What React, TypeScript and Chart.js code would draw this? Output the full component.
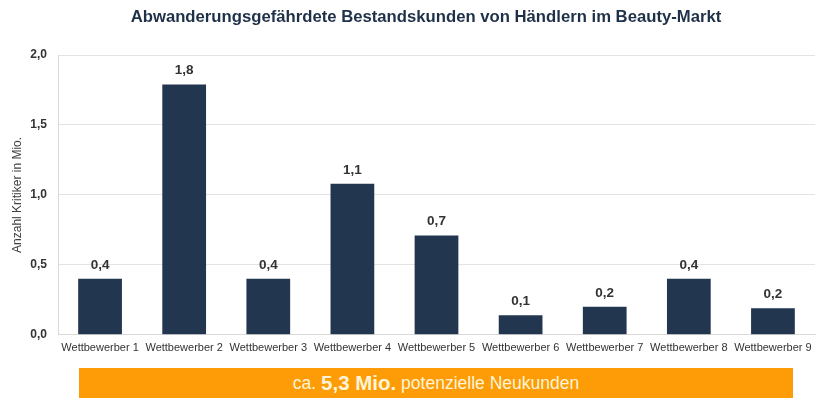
import React, { useEffect, useRef } from "react";
import { Chart, registerables } from "chart.js";

Chart.register(...registerables);

const categories = [
  "Wettbewerber 1",
  "Wettbewerber 2",
  "Wettbewerber 3",
  "Wettbewerber 4",
  "Wettbewerber 5",
  "Wettbewerber 6",
  "Wettbewerber 7",
  "Wettbewerber 8",
  "Wettbewerber 9",
];
const values = [0.4, 1.79, 0.4, 1.08, 0.71, 0.14, 0.2, 0.4, 0.19];
const valueLabels = ["0,4", "1,8", "0,4", "1,1", "0,7", "0,1", "0,2", "0,4", "0,2"];
const yTicks = ["0,0", "0,5", "1,0", "1,5", "2,0"];
const titleText = "Abwanderungsgefährdete Bestandskunden von Händlern im Beauty-Markt";

const FONT = "'Liberation Sans', Arial, sans-serif";
const NAVY = "#22364f";

const labelPlugin = {
  id: "valueLabels",
  afterDatasetsDraw(chart: any) {
    const ctx = chart.ctx;
    const meta = chart.getDatasetMeta(0);
    ctx.save();
    ctx.font = `bold 13.5px ${FONT}`;
    ctx.fillStyle = "#333333";
    ctx.textAlign = "center";
    ctx.textBaseline = "bottom";
    meta.data.forEach((bar: any, i: number) => {
      ctx.fillText(valueLabels[i], bar.x, bar.y - 7);
    });
    ctx.restore();
  },
};

const titlePlugin = {
  id: "customTitle",
  afterDraw(chart: any) {
    const ctx = chart.ctx;
    ctx.save();
    ctx.font = `bold 16.7px ${FONT}`;
    ctx.fillStyle = "#1f3049";
    ctx.textAlign = "center";
    ctx.textBaseline = "middle";
    ctx.fillText(titleText, 426, 17);
    ctx.restore();
  },
};

export default function App() {
  const ref = useRef<HTMLCanvasElement | null>(null);
  useEffect(() => {
    if (!ref.current) return;
    const chart = new Chart(ref.current, {
      type: "bar",
      data: {
        labels: categories,
        datasets: [
          {
            data: values,
            backgroundColor: NAVY,
            barPercentage: 0.52,
            categoryPercentage: 1,
          },
        ],
      },
      options: {
        responsive: false,
        animation: false,
        layout: { padding: { top: 55, right: 7, bottom: 51, left: 0 } },
        plugins: {
          legend: { display: false },
          tooltip: { enabled: false },
          title: { display: false },
        },
        scales: {
          x: {
            grid: { display: false, drawTicks: false },
            border: { color: "#d9d9d9" },
            ticks: {
              color: "#333333",
              font: { family: FONT, size: 11 },
              padding: 7,
              maxRotation: 0,
              autoSkip: false,
            },
          },
          y: {
            min: 0,
            max: 2,
            afterFit(scale: any) {
              scale.width = 58;
            },
            grid: { color: "#e3e3e3", drawTicks: false },
            border: { color: "#d9d9d9" },
            ticks: {
              stepSize: 0.5,
              color: "#333333",
              font: { family: FONT, size: 12, weight: "bold" },
              padding: 11,
              callback: (_v: any, i: number) => yTicks[i],
            },
            title: {
              display: true,
              text: "Anzahl Kritiker in Mio.",
              color: "#404040",
              font: { family: FONT, size: 12 },
              padding: { top: 10, bottom: 0 },
            },
          },
        },
      },
      plugins: [labelPlugin, titlePlugin],
    });
    return () => chart.destroy();
  }, []);

  return (
    <div style={{ position: "fixed", left: 0, top: 0, width: 822, height: 413, background: "#ffffff" }}>
      <canvas ref={ref} width={822} height={413} style={{ display: "block" }} />
      <div
        style={{
          position: "absolute",
          left: 79,
          top: 368,
          width: 714,
          height: 30,
          background: "#fd9c06",
          color: "#fff4d6",
          fontFamily: FONT,
          fontSize: 17.5,
          display: "flex",
          alignItems: "center",
          justifyContent: "center",
          whiteSpace: "pre",
        }}
      >
        <span>ca. </span>
        <span style={{ fontWeight: "bold", fontSize: 20.5 }}>5,3 Mio.</span>
        <span> potenzielle Neukunden</span>
      </div>
    </div>
  );
}
